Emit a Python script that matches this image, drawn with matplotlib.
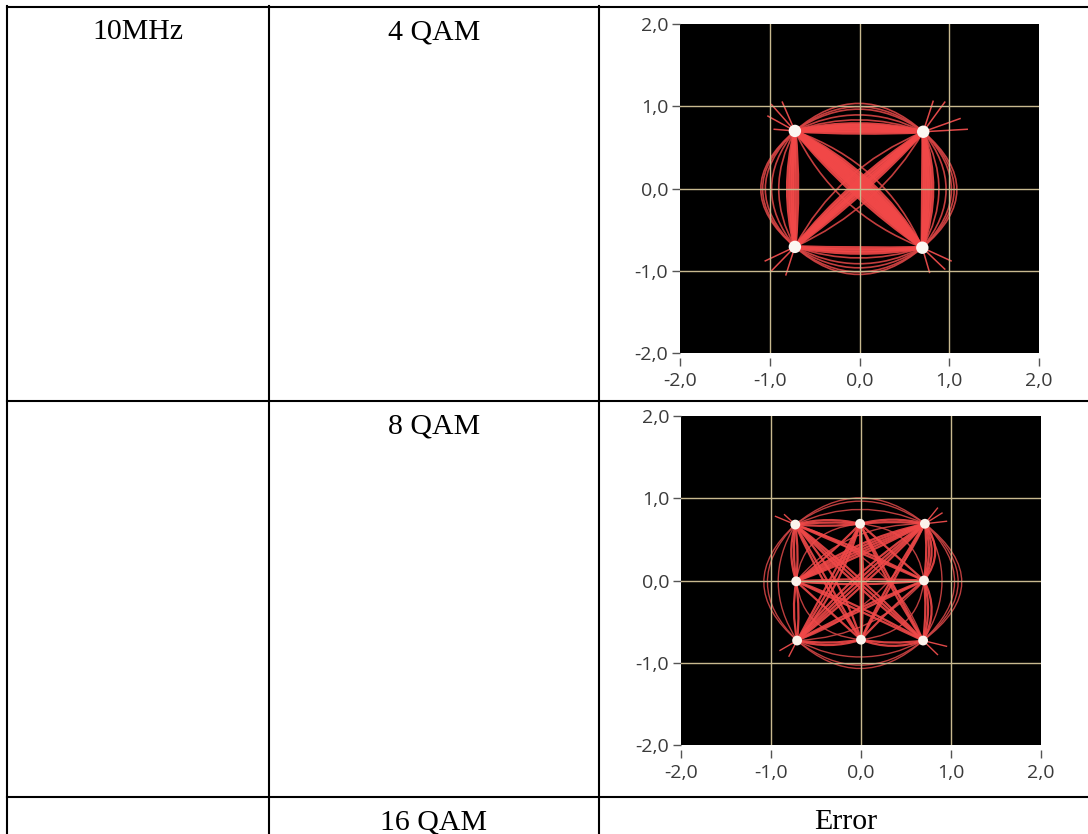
import numpy as np
import matplotlib
matplotlib.use('Agg')
import matplotlib.pyplot as plt
from matplotlib.path import Path
from matplotlib.patches import PathPatch
from matplotlib.lines import Line2D
from matplotlib.ticker import FixedLocator, FuncFormatter

W, H = 1088, 834

# table contents
bandwidth_labels = ['10MHz', '', '']
modulation_labels = ['4 QAM', '8 QAM', '16 QAM']
result_labels = [None, None, 'Error']

axis_ticks = [-2.0, -1.0, 0.0, 1.0, 2.0]
grid_ticks = [-1.0, 0.0, 1.0]

# 4 QAM symbol positions (0 TL, 1 TR, 2 BL, 3 BR)
qam4_x = [-0.72, 0.71, -0.72, 0.70]
qam4_y = [0.70, 0.69, -0.71, -0.72]
# transitions: (from, to, bulge at middle of trace)
qam4_links = [
    (0, 1, 0.01), (0, 1, 0.03), (0, 1, 0.05), (0, 1, 0.07), (0, 1, 0.09), (0, 1, -0.02),
    (1, 3, 0.02), (1, 3, 0.04), (1, 3, 0.06), (1, 3, 0.08), (1, 3, 0.11), (1, 3, 0.0),
    (0, 2, -0.01), (0, 2, -0.03), (0, 2, -0.05), (0, 2, -0.08), (0, 2, 0.03),
    (2, 3, -0.01), (2, 3, -0.04), (2, 3, -0.07),
    (0, 3, 0.0), (0, 3, 0.02), (0, 3, 0.04), (0, 3, 0.06), (0, 3, 0.08), (0, 3, 0.10),
    (0, 3, 0.12), (0, 3, -0.02), (0, 3, -0.04), (0, 3, -0.07), (0, 3, 0.15),
    (2, 1, 0.0), (2, 1, 0.02), (2, 1, -0.02), (2, 1, 0.05), (2, 1, -0.05), (2, 1, 0.08),
]
qam4_loops = [
    (0, 1, 0.30), (0, 1, 0.34), (0, 1, 0.27), (0, 1, 0.20), (0, 1, 0.14),
    (1, 3, 0.35), (1, 3, 0.38), (1, 3, 0.32), (1, 3, 0.26), (1, 3, 0.18),
    (0, 2, -0.36), (0, 2, -0.38), (0, 2, -0.33), (0, 2, -0.26), (0, 2, -0.18),
    (2, 3, -0.30), (2, 3, -0.33), (2, 3, -0.13), (2, 3, -0.20), (2, 3, -0.25),
    (0, 3, 0.22), (0, 3, -0.20), (2, 1, 0.18), (2, 1, -0.16),
]
# overshoot spikes: (symbol, end x, end y)
qam4_spikes = [
    (0, -0.98, 1.02), (0, -0.86, 1.05), (0, -1.02, 0.88), (0, -0.95, 0.72),
    (1, 0.95, 1.05), (1, 1.12, 0.85), (1, 1.20, 0.72), (1, 0.82, 1.06),
    (2, -0.98, -1.00), (2, -0.82, -1.05), (2, -1.05, -0.88),
    (3, 0.95, -0.98), (3, 1.02, -0.88), (3, 0.78, -1.02),
]

# 8 QAM symbol positions
qam8_x = [-0.73, -0.01, 0.71, -0.72, 0.70, -0.71, 0.00, 0.69]
qam8_y = [0.68, 0.69, 0.69, -0.01, 0.00, -0.73, -0.72, -0.73]
qam8_links = [
    (3, 2, 0.0), (3, 2, 0.03), (3, 2, 0.06), (3, 2, -0.03), (3, 2, 0.09),
    (5, 2, 0.0), (5, 2, 0.04), (5, 2, -0.04), (5, 2, 0.08),
    (0, 7, 0.0), (0, 7, 0.04), (0, 7, -0.04),
    (0, 4, 0.0), (0, 4, 0.03), (3, 4, 0.02), (3, 4, -0.04),
    (1, 5, 0.0), (1, 5, 0.04), (1, 7, 0.0), (1, 7, -0.03),
    (6, 2, 0.0), (6, 2, 0.03), (6, 0, 0.0), (6, 0, 0.04), (5, 4, 0.0), (5, 4, 0.03),
    (3, 7, 0.0), (3, 7, 0.04), (1, 6, 0.0), (1, 6, 0.03), (1, 3, 0.02), (1, 4, 0.0),
    (3, 6, 0.0), (6, 4, 0.02), (0, 6, 0.08), (5, 1, -0.08),
    (0, 1, 0.02), (0, 1, 0.05), (0, 1, -0.02), (1, 2, 0.02), (1, 2, 0.05),
    (2, 4, 0.02), (2, 4, 0.05), (2, 4, 0.08), (2, 4, 0.12),
    (4, 7, 0.02), (4, 7, 0.05), (4, 7, 0.09),
    (0, 3, -0.02), (0, 3, -0.05), (0, 3, 0.02), (3, 5, -0.03), (3, 5, 0.02),
    (5, 6, -0.03), (5, 6, -0.06), (6, 7, -0.03), (6, 7, -0.07),
]
qam8_loops = [
    (2, 7, 0.38), (2, 7, 0.42), (2, 7, 0.34), (2, 7, 0.20),
    (0, 5, -0.32), (0, 5, -0.36), (0, 5, -0.20),
    (0, 2, 0.28), (0, 2, 0.32), (0, 2, 0.18),
    (5, 7, -0.30), (5, 7, -0.34), (5, 7, -0.20),
    (3, 1, 0.20), (4, 6, 0.20), (1, 4, 0.20), (6, 3, 0.20),
    (0, 7, 0.25), (5, 2, -0.22), (3, 2, 0.20), (5, 4, -0.18),
]
qam8_spikes = [
    (2, 0.90, 0.82), (2, 0.85, 0.88), (2, 0.95, 0.72),
    (0, -0.95, 0.78), (0, -0.85, 0.80),
    (5, -0.90, -0.85), (5, -0.80, -0.92),
    (7, 0.85, -0.90), (7, 0.95, -0.80),
]


def fx(px):
    return px / W


def fy(py):
    return 1 - py / H


def draw_links(ax, sx, sy, links, color, lw):
    for i, j, bulge in links:
        x0, y0, x1, y1 = sx[i], sy[i], sx[j], sy[j]
        dx, dy = x1 - x0, y1 - y0
        n = np.hypot(dx, dy)
        cx = (x0 + x1) / 2 - dy / n * 2 * bulge
        cy = (y0 + y1) / 2 + dx / n * 2 * bulge
        path = Path([(x0, y0), (cx, cy), (x1, y1)],
                    [Path.MOVETO, Path.CURVE3, Path.CURVE3])
        ax.add_patch(PathPatch(path, fill=False, edgecolor=color, lw=lw,
                               zorder=1, alpha=0.9))


def draw_spikes(ax, sx, sy, spikes, color, lw):
    for i, xe, ye in spikes:
        ax.plot([sx[i], xe], [sy[i], ye], color=color, lw=lw, zorder=1)


def style_axes(ax):
    ax.set_facecolor('black')
    ax.set_xlim(-2, 2)
    ax.set_ylim(-2, 2)
    for s in ax.spines.values():
        s.set_visible(False)
    ax.spines['bottom'].set_position(('outward', 3.5))
    ax.xaxis.set_major_locator(FixedLocator(axis_ticks))
    ax.yaxis.set_major_locator(FixedLocator(axis_ticks))
    fmt = FuncFormatter(lambda v, p: '{:.1f}'.format(v).replace('.', ','))
    ax.xaxis.set_major_formatter(fmt)
    ax.yaxis.set_major_formatter(fmt)
    ax.tick_params(axis='y', length=5.5, width=1, pad=3, color='#555555',
                   labelcolor='#3a3a3a', labelsize=14)
    ax.tick_params(axis='x', length=6, width=1, pad=4, color='#555555',
                   labelcolor='#3a3a3a', labelsize=14)
    for lab in ax.get_xticklabels() + ax.get_yticklabels():
        lab.set_family('Open Sans')
    for g in grid_ticks:
        ax.axhline(g, color='#c8b98f', lw=1, zorder=2.5)
        ax.axvline(g, color='#c8b98f', lw=1, zorder=2.5)


fig = plt.figure(figsize=(W / 100, H / 100), dpi=100)

# table grid
for y in [7, 401, 797]:
    fig.add_artist(Line2D([fx(7), fx(1100)], [fy(y), fy(y)], color='black', lw=1.5))
for x in [7, 269, 599]:
    fig.add_artist(Line2D([fx(x), fx(x)], [fy(6), fy(840)], color='black', lw=1.5))

row_base = [39, 433, 829]
col_center = [138, 434, 846]
for r in range(3):
    for c, labels in enumerate([bandwidth_labels, modulation_labels, result_labels]):
        if labels[r]:
            fig.text(fx(col_center[c]), fy(row_base[r]), labels[r], ha='center',
                     va='baseline', fontsize=21.5, family='Liberation Serif')

ax1 = fig.add_axes([fx(680), fy(353), (1039 - 680) / W, (353 - 24) / H])
style_axes(ax1)
draw_links(ax1, qam4_x, qam4_y, qam4_loops, '#d84444', 1.2)
draw_links(ax1, qam4_x, qam4_y, qam4_links, '#f24848', 2.6)
draw_spikes(ax1, qam4_x, qam4_y, qam4_spikes, '#e04848', 1.1)
ax1.scatter(qam4_x, qam4_y, s=80, color='#fbf7f2', edgecolors='none', zorder=4)

ax2 = fig.add_axes([fx(681), fy(745), (1041 - 681) / W, (745 - 416) / H])
style_axes(ax2)
draw_links(ax2, qam8_x, qam8_y, qam8_loops, '#d04444', 1.0)
draw_links(ax2, qam8_x, qam8_y, qam8_links, '#f04848', 1.6)
draw_spikes(ax2, qam8_x, qam8_y, qam8_spikes, '#e04848', 1.0)
ax2.scatter(qam8_x, qam8_y, s=50, color='#fbf3ec', edgecolors='none', zorder=4)

fig.savefig('out.png', dpi=100)
